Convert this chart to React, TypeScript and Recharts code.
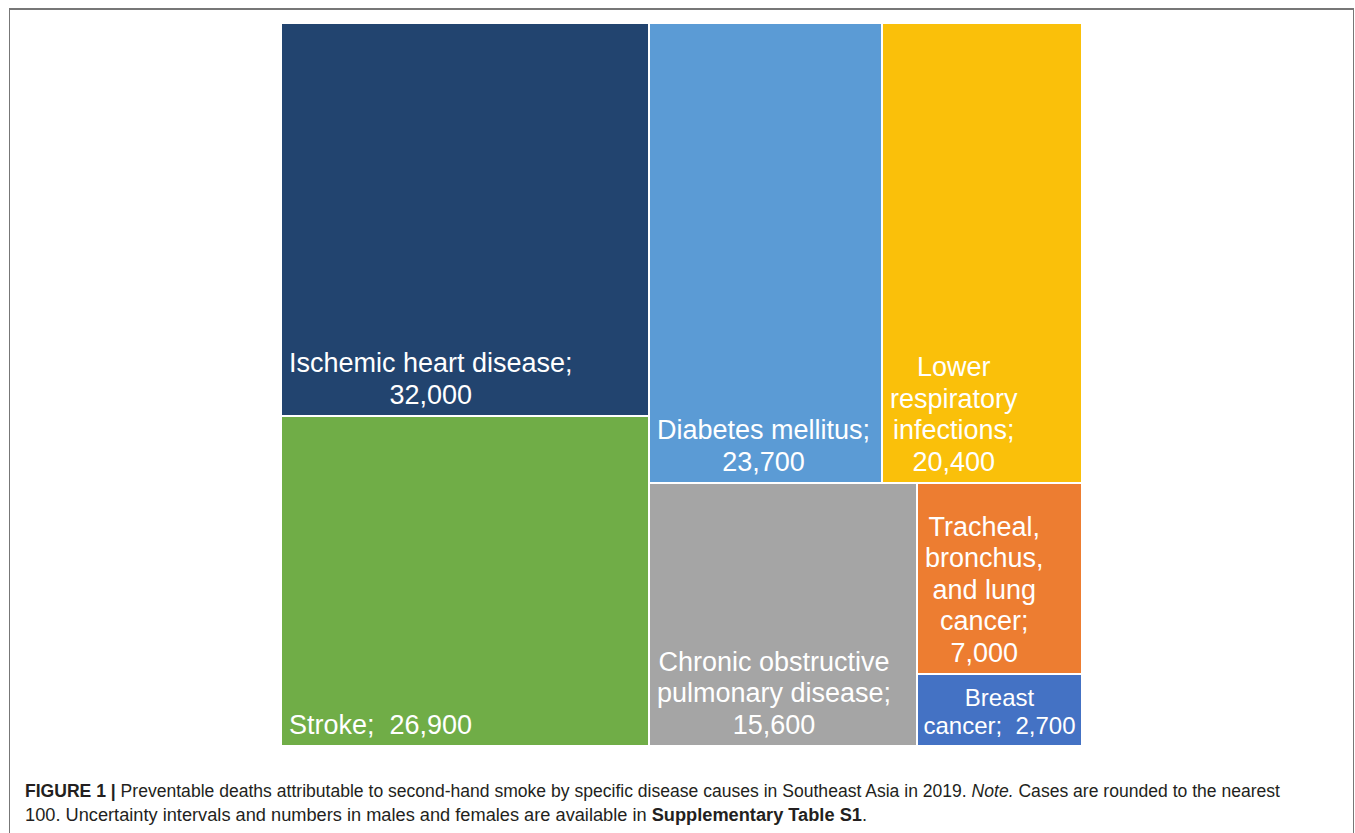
import { Treemap } from "recharts";

const causes = [
  "Ischemic heart disease",
  "Stroke",
  "Diabetes mellitus",
  "Lower respiratory infections",
  "Chronic obstructive pulmonary disease",
  "Tracheal, bronchus, and lung cancer",
  "Breast cancer",
];
const deaths = [32000, 26900, 23700, 20400, 15600, 7000, 2700];
const colors = ["#22446f", "#70ad47", "#5b9bd5", "#fac00a", "#a5a5a5", "#ed7d31", "#4472c4"];

// how the label of each cell is broken into lines (value goes after the last one)
const labelLines = [
  ["Ischemic heart disease;"],
  ["Stroke;"],
  ["Diabetes mellitus;"],
  ["Lower", "respiratory", "infections;"],
  ["Chronic obstructive", "pulmonary disease;"],
  ["Tracheal,", "bronchus,", "and lung", "cancer;"],
  ["Breast", "cancer;"],
];
const valueInline = [false, true, false, false, false, false, true];

const data = causes.map((name, i) => ({ name, size: deaths[i] }));

const FONT = '"Liberation Sans", Arial, Helvetica, sans-serif';
let ctx: CanvasRenderingContext2D | null = null;
const measure = (s: string, font: string) => {
  if (!ctx) ctx = document.createElement("canvas").getContext("2d");
  if (!ctx) return s.length * 14;
  ctx.font = font;
  return ctx.measureText(s).width;
};

const Cell = (props: any) => {
  const { x, y, width, height, depth, name } = props;
  if (depth !== 1) return null;
  const i = causes.indexOf(name);
  if (i < 0) return null;
  const value = deaths[i].toLocaleString("en-US");
  const lines = [...labelLines[i]];
  if (valueInline[i]) lines[lines.length - 1] = lines[lines.length - 1] + "  " + value;
  else lines.push(value);

  const small = i === 6;
  const fs = small ? 24 : 27;
  const lh = small ? 28 : 31.6;
  const blockW = Math.max(...lines.map((l) => measure(l, `${fs}px ${FONT}`)));
  const left = small ? x + (width - blockW) / 2 : x + 8;
  const cx = left + blockW / 2;
  const lastBase = y + height - 12;

  return (
    <g>
      <rect x={x} y={y} width={width} height={height} fill={colors[i]} stroke="#fff" strokeWidth={2} />
      <text fill="#fff" fontSize={fs} fontFamily={FONT} textAnchor="middle" style={{ whiteSpace: "pre" }}>
        {lines.map((l, k) => (
          <tspan key={k} x={cx} y={lastBase - (lines.length - 1 - k) * lh}>
            {l}
          </tspan>
        ))}
      </text>
    </g>
  );
};

const CAPTION_FONT = '"Liberation Sans Narrow", "Liberation Sans", Arial, sans-serif';

export default function App() {
  return (
    <div style={{ position: "absolute", left: 0, top: 0, width: 1355, height: 833, background: "#fff", overflow: "hidden" }}>
      <div
        style={{
          position: "absolute",
          left: 9,
          top: 8,
          width: 1343,
          height: 900,
          borderTop: "2px solid #777",
          borderLeft: "1.5px solid #777",
          borderRight: "1.5px solid #777",
        }}
      />
      <div style={{ position: "absolute", left: 281, top: 23 }}>
        <Treemap
          width={801}
          height={723}
          data={data}
          dataKey="size"
          nameKey="name"
          aspectRatio={1.3}
          isAnimationActive={false}
          content={<Cell />}
        />
      </div>
      <svg width={1355} height={833} style={{ position: "absolute", left: 0, top: 0, pointerEvents: "none" }}>
        <text x={25} y={797} fontSize={17.5} fill="#231f20" fontFamily={CAPTION_FONT} textLength={1255} lengthAdjust="spacingAndGlyphs">
          <tspan fontWeight="bold">FIGURE 1 | </tspan>
          <tspan>Preventable deaths attributable to second-hand smoke by specific disease causes in Southeast Asia in 2019. </tspan>
          <tspan fontStyle="italic">Note.</tspan>
          <tspan> Cases are rounded to the nearest</tspan>
        </text>
        <text x={25} y={821} fontSize={17.5} fill="#231f20" fontFamily={CAPTION_FONT} textLength={842} lengthAdjust="spacingAndGlyphs">
          <tspan>100. Uncertainty intervals and numbers in males and females are available in </tspan>
          <tspan fontWeight="bold">Supplementary Table S1</tspan>
          <tspan>.</tspan>
        </text>
      </svg>
    </div>
  );
}
